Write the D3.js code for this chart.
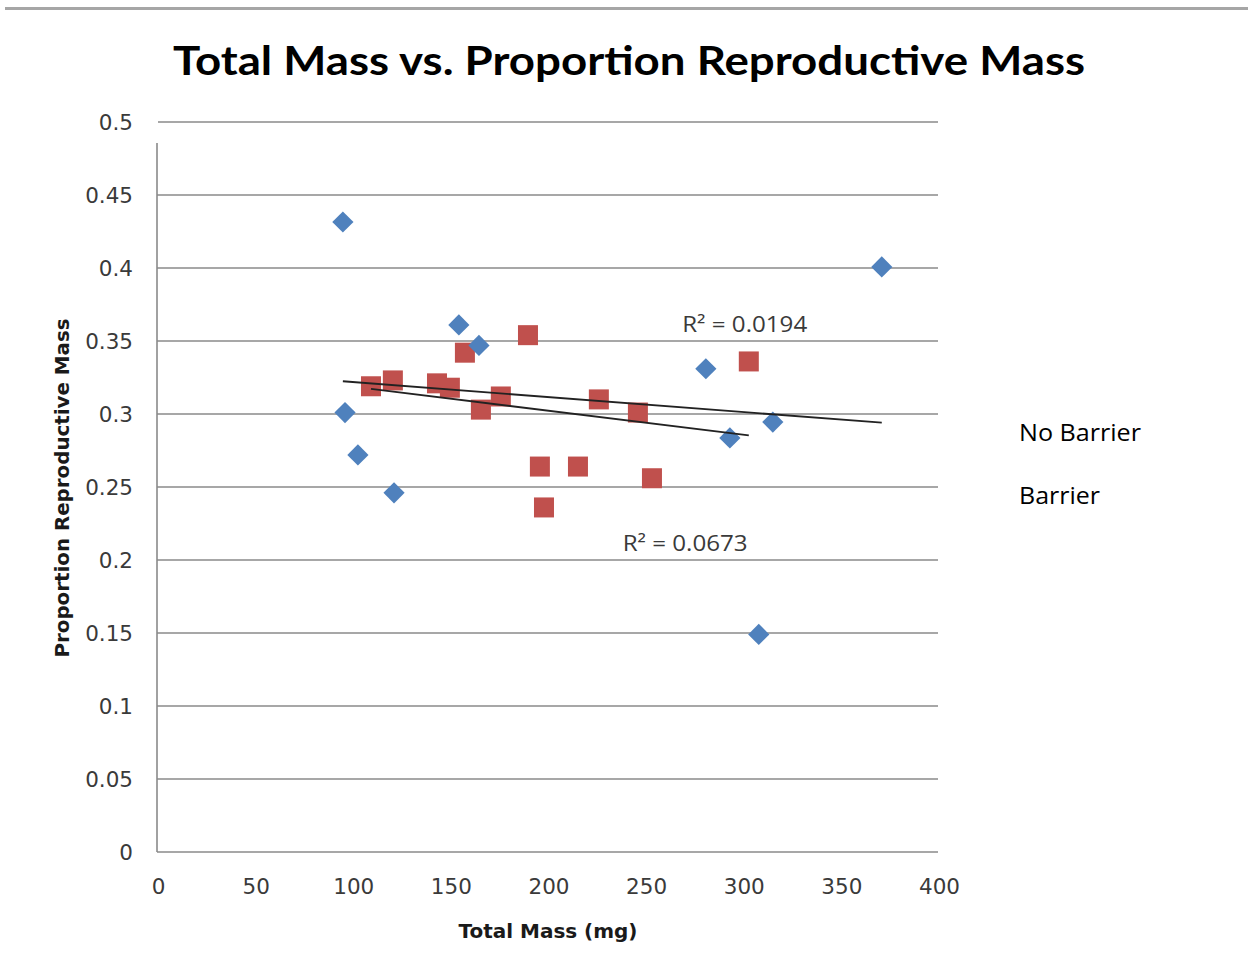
<!DOCTYPE html>
<html><head><meta charset="utf-8">
<script src="https://cdn.jsdelivr.net/npm/d3@7"></script>
<style>body{margin:0;background:#fff}svg{display:block}</style>
</head><body>
<script>
// ---- data ----
const seriesNames = ["No Barrier", "Barrier"];
const noBarrierMass = [95.2, 154.6, 164.9, 96.3, 102.9, 121.4, 281.1, 293.4, 315.4, 308.2, 371.2];
const noBarrierProp = [0.4315, 0.361, 0.347, 0.301, 0.272, 0.246, 0.331, 0.2836, 0.2945, 0.149, 0.4007];
const barrierMass = [109.6, 120.8, 143.4, 150.0, 157.7, 165.9, 176.1, 190.0, 196.1, 198.2, 215.6, 226.3, 246.3, 253.5, 303.1];
const barrierProp = [0.319, 0.323, 0.321, 0.318, 0.342, 0.303, 0.312, 0.354, 0.264, 0.236, 0.264, 0.310, 0.301, 0.256, 0.336];
const xTicks = [0, 50, 100, 150, 200, 250, 300, 350, 400];
const yTicks = [0, 0.05, 0.1, 0.15, 0.2, 0.25, 0.3, 0.35, 0.4, 0.45, 0.5];
const rLabels = ["R² = 0.0194", "R² = 0.0673"];
const rLabelPos = [[269, 0.3565], [238.5, 0.2065]]; // [mass, proportion] anchor
const titleText = "Total Mass vs. Proportion Reproductive Mass";
const xTitle = "Total Mass (mg)";
const yTitle = "Proportion Reproductive Mass";
const colors = ["#4F81BD", "#C0504D"];

const W = 1248, H = 972;
const svg = d3.select("body").append("svg").attr("width", W).attr("height", H);

const x = d3.scaleLinear().domain([0, 400]).range([157, 938]);
const y = d3.scaleLinear().domain([0, 0.5]).range([852, 122]);

// top border line
svg.append("line").attr("x1", 5).attr("x2", W).attr("y1", 8.5).attr("y2", 8.5)
  .attr("stroke", "#a6a6a6").attr("stroke-width", 3);

// title
svg.append("text").attr("x", 629).attr("y", 75).attr("text-anchor", "middle")
  .attr("font-family", "Lato, 'Open Sans', sans-serif").attr("font-weight", "bold")
  .attr("font-size", 40).attr("fill", "#000")
  .attr("textLength", 912).attr("lengthAdjust", "spacingAndGlyphs")
  .text(titleText);

// gridlines
svg.append("g").selectAll("line").data(yTicks.filter(d => d > 0)).join("line")
  .attr("x1", d => d === 0.5 ? x(0) + 1 : x(0)).attr("x2", x(400))
  .attr("y1", d => y(d)).attr("y2", d => y(d))
  .attr("stroke", "#8a8a8a").attr("stroke-width", 1.6);

// axes lines
svg.append("line").attr("x1", x(0)).attr("x2", x(0)).attr("y1", 143).attr("y2", y(0))
  .attr("stroke", "#8a8a8a").attr("stroke-width", 1.6);
svg.append("line").attr("x1", x(0)).attr("x2", x(400)).attr("y1", y(0)).attr("y2", y(0))
  .attr("stroke", "#8a8a8a").attr("stroke-width", 1.6);

// y tick labels via axis
const yAxis = svg.append("g").attr("transform", `translate(${x(0) - 24},0)`)
  .call(d3.axisLeft(y).tickValues(yTicks).tickSize(0).tickPadding(0).tickFormat(d => String(+d.toFixed(2))));
yAxis.select(".domain").remove();
yAxis.selectAll("text").attr("font-family", "'DejaVu Sans', Verdana, sans-serif")
  .attr("font-size", 21.5).attr("fill", "#3a3a3a").attr("dy", "0.35em");

// x tick labels via axis
const xAxis = svg.append("g").attr("transform", `translate(1,${y(0) + 27})`)
  .call(d3.axisBottom(x).tickValues(xTicks).tickSize(0).tickPadding(0).tickFormat(d3.format("d")));
xAxis.select(".domain").remove();
xAxis.selectAll("text").attr("font-family", "'DejaVu Sans', Verdana, sans-serif")
  .attr("font-size", 21.5).attr("fill", "#3a3a3a").attr("dy", "0.71em");

// axis titles
svg.append("text").attr("x", 548).attr("y", 938).attr("text-anchor", "middle")
  .attr("font-family", "'DejaVu Sans', Verdana, sans-serif").attr("font-weight", "bold")
  .attr("font-size", 19).attr("fill", "#1a1a1a")
  .attr("textLength", 179).attr("lengthAdjust", "spacingAndGlyphs").text(xTitle);
svg.append("text").attr("transform", "translate(69,488) rotate(-90)").attr("text-anchor", "middle")
  .attr("font-family", "'DejaVu Sans', Verdana, sans-serif").attr("font-weight", "bold")
  .attr("font-size", 19).attr("fill", "#1a1a1a")
  .attr("textLength", 339).attr("lengthAdjust", "spacingAndGlyphs").text(yTitle);

// data
const nb = noBarrierMass.map((m, i) => ({m, p: noBarrierProp[i]}));
const b = barrierMass.map((m, i) => ({m, p: barrierProp[i]}));

// regression
function fit(pts) {
  const mx = d3.mean(pts, d => d.m), my = d3.mean(pts, d => d.p);
  const sxy = d3.sum(pts, d => (d.m - mx) * (d.p - my));
  const sxx = d3.sum(pts, d => (d.m - mx) ** 2);
  const slope = sxy / sxx, icpt = my - slope * mx;
  const ext = d3.extent(pts, d => d.m);
  return ext.map(v => ({m: v, p: icpt + slope * v}));
}
const line = d3.line().x(d => x(d.m)).y(d => y(d.p));

// markers
svg.append("g").selectAll("rect").data(b).join("rect")
  .attr("x", d => x(d.m) - 10).attr("y", d => y(d.p) - 10)
  .attr("width", 20).attr("height", 20).attr("fill", colors[1]);
svg.append("g").selectAll("path").data(nb).join("path")
  .attr("transform", d => `translate(${x(d.m)},${y(d.p)}) rotate(45)`)
  .attr("d", d3.symbol(d3.symbolSquare, 15 * 15)).attr("fill", colors[0]);

// trend lines
[nb, b].forEach(pts => {
  svg.append("path").attr("d", line(fit(pts))).attr("fill", "none")
    .attr("stroke", "#222").attr("stroke-width", 1.9);
});

// R² labels
svg.append("g").selectAll("text").data(rLabels).join("text")
  .attr("x", (d, i) => x(rLabelPos[i][0])).attr("y", (d, i) => y(rLabelPos[i][1]))
  .attr("font-family", "'Open Sans', 'Noto Sans', sans-serif").attr("font-size", 21)
  .attr("fill", "#3a3a3a").attr("textLength", 125).attr("lengthAdjust", "spacingAndGlyphs")
  .text(d => d);

// legend (text only)
svg.append("g").selectAll("text").data(seriesNames).join("text")
  .attr("x", 1019).attr("y", (d, i) => 441 + i * 63)
  .attr("font-family", "'Open Sans', 'Noto Sans', sans-serif").attr("font-size", 24)
  .attr("fill", "#000").attr("textLength", (d, i) => i === 0 ? 122 : 81)
  .attr("lengthAdjust", "spacingAndGlyphs").text(d => d);
</script>
</body></html>
